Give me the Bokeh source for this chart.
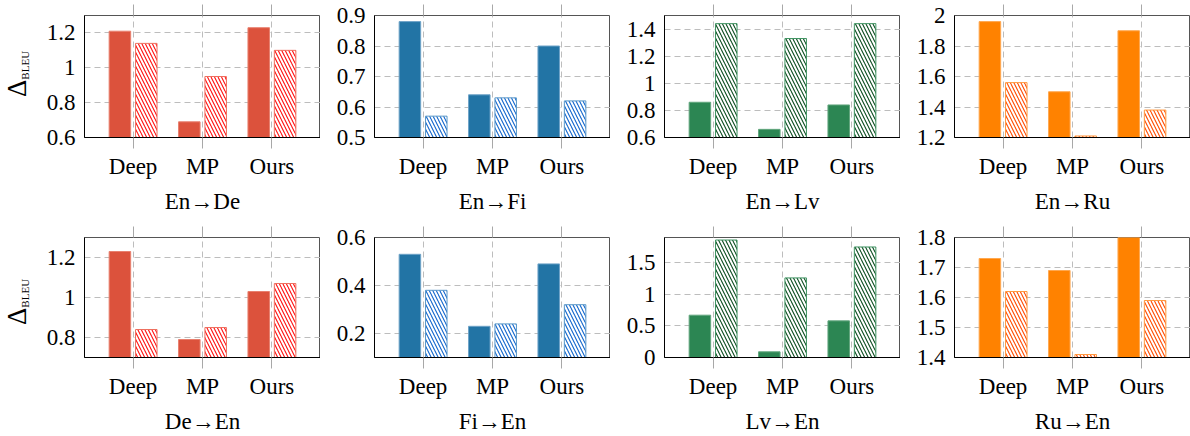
from bokeh.plotting import figure
from bokeh.layouts import column, row
from bokeh.models import (FixedTicker, LinearAxis, Range1d, ColumnDataSource, Div)
from bokeh.transform import dodge
from bokeh.embed import file_html
from bokeh.resources import INLINE

# ---------------- data ----------------
methods = ["Deep", "MP", "Ours"]
pair_names = ["En→De", "En→Fi", "En→Lv", "En→Ru",
              "De→En", "Fi→En", "Lv→En", "Ru→En"]
y_title = ["Δ", "BLEU"]

en_de_solid = [1.21, 0.69, 1.23]
en_de_hatch = [1.14, 0.95, 1.10]
en_fi_solid = [0.88, 0.64, 0.80]
en_fi_hatch = [0.57, 0.63, 0.62]
en_lv_solid = [0.86, 0.66, 0.84]
en_lv_hatch = [1.44, 1.33, 1.44]
en_ru_solid = [1.96, 1.50, 1.90]
en_ru_hatch = [1.56, 1.21, 1.38]
de_en_solid = [1.23, 0.79, 1.03]
de_en_hatch = [0.84, 0.85, 1.07]
fi_en_solid = [0.53, 0.23, 0.49]
fi_en_hatch = [0.38, 0.24, 0.32]
lv_en_solid = [0.67, 0.09, 0.58]
lv_en_hatch = [1.86, 1.26, 1.75]
ru_en_solid = [1.73, 1.69, 1.80]
ru_en_hatch = [1.62, 1.41, 1.59]

y_limits = [(0.6, 1.3), (0.5, 0.9), (0.6, 1.5), (1.2, 2.0),
            (0.7, 1.3), (0.1, 0.6), (0.0, 1.9), (1.4, 1.8)]
y_ticks = [[0.6, 0.8, 1.0, 1.2], [0.5, 0.6, 0.7, 0.8, 0.9],
           [0.6, 0.8, 1.0, 1.2, 1.4], [1.2, 1.4, 1.6, 1.8, 2.0],
           [0.8, 1.0, 1.2], [0.2, 0.4, 0.6],
           [0.0, 0.5, 1.0, 1.5], [1.4, 1.5, 1.6, 1.7, 1.8]]

solids = [en_de_solid, en_fi_solid, en_lv_solid, en_ru_solid,
          de_en_solid, fi_en_solid, lv_en_solid, ru_en_solid]
hatches = [en_de_hatch, en_fi_hatch, en_lv_hatch, en_ru_hatch,
           de_en_hatch, fi_en_hatch, lv_en_hatch, ru_en_hatch]

# ---------------- styles ----------------
# (fill, fill border, hatch line colour, hatch border)
palettes = [
    ("#DC523C", "#E8806F", "#FF1010", "#EE7060"),
    ("#2274A5", "#6FA3C8", "#1266CC", "#5A98C8"),
    ("#2C8653", "#62A67E", "#0B4D1F", "#3F9462"),
    ("#FF8200", "#FFA850", "#FF4A00", "#FF9A40"),
]
FONT = "Liberation Serif"
FS = "23px"
FRAME_W, FRAME_H = 236, 122
LEFT_B = 54
ROW_BORDERS = [(15, 80), (20, 77)]   # (top, bottom) border per row
LABEL_W = 30
# where the rotated y title starts (left, top) inside its strip, per row
TITLE_ANCHOR = [(3.5, 97), (3.5, 108)]


def fmt(v):
    return ("%.2f" % v).rstrip("0").rstrip(".")


def make_panel(i):
    r = 0 if i < 4 else 1
    top_b, bot_b = ROW_BORDERS[r]
    pal = palettes[i % 4]
    ymin, ymax = y_limits[i]
    p = figure(width=LEFT_B + FRAME_W, height=top_b + FRAME_H + bot_b,
               x_range=Range1d(-0.7, 2.7), y_range=Range1d(ymin, ymax),
               output_backend="svg", toolbar_location=None,
               min_border_left=LEFT_B, min_border_right=0,
               min_border_top=top_b, min_border_bottom=bot_b,
               background_fill_color="white", border_fill_color="white")
    p.outline_line_color = "#555555"
    p.outline_line_width = 1

    cat_ticks = list(range(len(methods)))
    p.xgrid.ticker = FixedTicker(ticks=cat_ticks)
    p.ygrid.ticker = FixedTicker(ticks=y_ticks[i])
    for g in (p.xgrid, p.ygrid):
        g.grid_line_color = "#BDBDBD"
        g.grid_line_dash = "6 4"
        g.grid_line_width = 1

    xa = p.xaxis[0]
    xa.ticker = FixedTicker(ticks=cat_ticks)
    xa.major_label_overrides = {k: m for k, m in enumerate(methods)}
    xa.major_tick_in = 0
    xa.major_tick_out = 11
    xa.major_tick_line_color = "#A8A8A8"
    xa.minor_tick_line_color = None
    xa.axis_line_color = "black"
    xa.major_label_standoff = 5
    xa.major_label_text_font = FONT
    xa.major_label_text_font_size = FS
    xa.major_label_text_color = "black"
    xa.axis_label = pair_names[i]
    xa.axis_label_standoff = 7
    xa.axis_label_text_font = FONT
    xa.axis_label_text_font_size = FS
    xa.axis_label_text_font_style = "normal"
    xa.axis_label_text_color = "black"

    ya = p.yaxis[0]
    ya.ticker = FixedTicker(ticks=y_ticks[i])
    ya.major_label_overrides = {t: fmt(t) for t in y_ticks[i]}
    ya.major_tick_in = 0
    ya.major_tick_out = 0
    ya.major_tick_line_color = None
    ya.minor_tick_line_color = None
    ya.axis_line_color = "black"
    ya.major_label_standoff = 9
    ya.major_label_text_font = FONT
    ya.major_label_text_font_size = FS
    ya.major_label_text_color = "black"

    # tick marks that stick out above the frame
    ta = LinearAxis(ticker=FixedTicker(ticks=cat_ticks),
                    major_label_text_font_size="0px", major_label_standoff=0,
                    axis_line_color=None, minor_tick_line_color=None,
                    major_tick_in=0, major_tick_out=11,
                    major_tick_line_color="#A8A8A8")
    ta.major_label_overrides = {k: "" for k in cat_ticks}
    p.add_layout(ta, "above")

    src = ColumnDataSource(dict(idx=cat_ticks, solid=solids[i], hatch=hatches[i]))
    p.vbar(x=dodge("idx", -0.19, range=p.x_range), top="solid", bottom=ymin,
           width=0.31, source=src, fill_color=pal[0], line_color=pal[1],
           line_width=1)
    p.vbar(x=dodge("idx", 0.19, range=p.x_range), top="hatch", bottom=ymin,
           width=0.31, source=src, fill_color="white", line_color=pal[3],
           line_width=1, hatch_pattern="\\", hatch_color=pal[2],
           hatch_scale=7, hatch_weight=1.1)
    return p


def make_ylabel(r):
    top_b, bot_b = ROW_BORDERS[r]
    h = top_b + FRAME_H + bot_b
    left, top = TITLE_ANCHOR[r]
    html = (
        f'<div style="position:relative;width:{LABEL_W}px;height:{h}px;'
        f'overflow:visible;">'
        f'<div style="position:absolute;left:{left}px;top:{top}px;'
        f'transform-origin:0 0;transform:rotate(-90deg);white-space:nowrap;'
        f"font-family:'{FONT}';font-size:27px;line-height:27px;color:black;\">"
        f'{y_title[0]}<span style="font-size:11px;position:relative;top:3px;">'
        f'{y_title[1]}</span></div></div>'
    )
    return Div(text=html, width=LABEL_W, height=h, margin=(0, 0, 0, 0),
               styles={"overflow": "visible"})


panels = [make_panel(i) for i in range(8)]
layout = column(row(make_ylabel(0), *panels[:4], spacing=0),
                row(make_ylabel(1), *panels[4:], spacing=0),
                spacing=0)

open("out.html", "w").write(file_html(layout, INLINE))
